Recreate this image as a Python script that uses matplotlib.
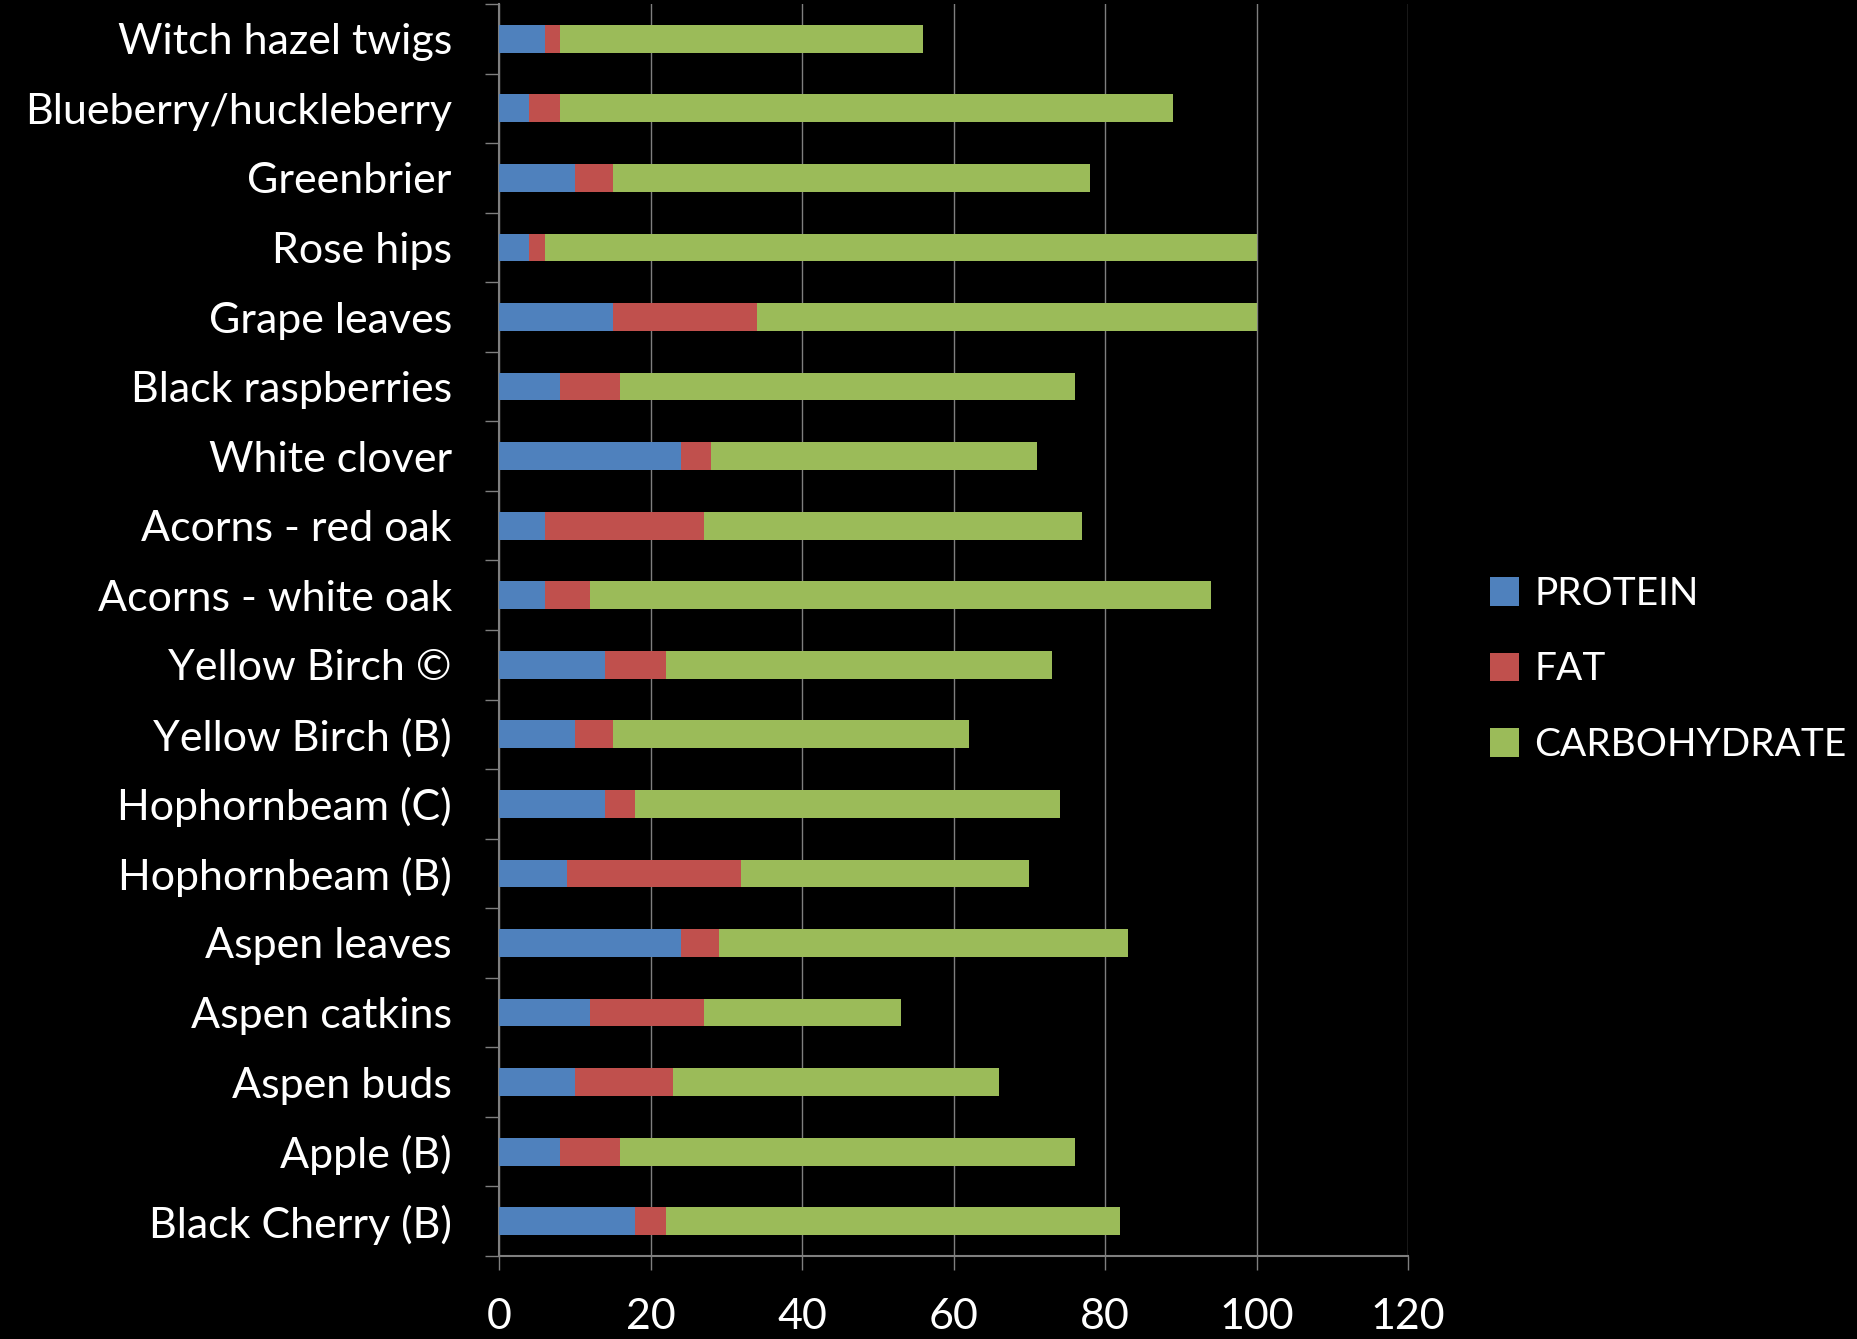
import matplotlib
matplotlib.use("Agg")
import matplotlib.pyplot as plt
import numpy as np

categories = ["Witch hazel twigs", "Blueberry/huckleberry", "Greenbrier", "Rose hips",
              "Grape leaves", "Black raspberries", "White clover", "Acorns - red oak",
              "Acorns - white oak", "Yellow Birch \u00a9", "Yellow Birch (B)",
              "Hophornbeam (C)", "Hophornbeam (B)", "Aspen leaves", "Aspen catkins",
              "Aspen buds", "Apple (B)", "Black Cherry (B)"]
protein = [6, 4, 10, 4, 15, 8, 24, 6, 6, 14, 10, 14, 9, 24, 12, 10, 8, 18]
fat = [2, 4, 5, 2, 19, 8, 4, 21, 6, 8, 5, 4, 23, 5, 15, 13, 8, 4]
carbohydrate = [48, 81, 63, 94, 66, 60, 43, 50, 82, 51, 47, 56, 38, 54, 26, 43, 60, 60]
series_names = ["PROTEIN", "FAT", "CARBOHYDRATE"]
colors = ["#4F81BD", "#C0504D", "#9BBB59"]
xticks = [0, 20, 40, 60, 80, 100, 120]

plt.rcParams['font.family'] = ['Lato', 'DejaVu Sans']

fig = plt.figure(figsize=(18.58, 13.39), dpi=100, facecolor='black')
ax = fig.add_axes([0.2686, 0.062, 0.4892, 0.935])
ax.set_facecolor('black')

n = len(categories)
y = np.arange(n)[::-1]
p = np.array(protein); f = np.array(fat); c = np.array(carbohydrate)
h = 0.4
ax.barh(y, p, height=h, color=colors[0], label=series_names[0], zorder=3)
ax.barh(y, f, left=p, height=h, color=colors[1], label=series_names[1], zorder=3)
ax.barh(y, c, left=p + f, height=h, color=colors[2], label=series_names[2], zorder=3)

ax.set_xlim(0, 120)
ax.set_ylim(-0.5, n - 0.5)
ax.set_xticks(xticks)
ax.set_xticklabels([str(v) for v in xticks])
ax.grid(axis='x', color='#7f7f7f', linewidth=1.0, zorder=0)

# category labels on minor ticks, boundary ticks on major
ax.set_yticks(np.arange(-0.5, n, 1.0))
ax.set_yticklabels([])
ax.set_yticks(y, minor=True)
ax.set_yticklabels(categories, minor=True)
ax.tick_params(axis='y', which='major', length=10, width=1, color='#7f7f7f', direction='out')
ax.tick_params(axis='y', which='minor', length=0, pad=34, labelsize=31, labelcolor='white')
ax.tick_params(axis='x', length=10, width=1, color='#7f7f7f', pad=20, labelsize=31, labelcolor='white')

for s in ['top', 'right']:
    ax.spines[s].set_visible(False)
ax.spines['left'].set_color('#7f7f7f')
ax.spines['bottom'].set_color('#7f7f7f')
ax.spines['left'].set_linewidth(1.5)
ax.spines['bottom'].set_linewidth(1.5)

leg = fig.legend(loc='center left', bbox_to_anchor=(0.783, 0.500), frameon=False,
                 fontsize=28, labelcolor='white', handlelength=0.75, handleheight=0.75,
                 handletextpad=0.4, labelspacing=1.02)

fig.savefig("out.png", dpi=100, facecolor='black')
